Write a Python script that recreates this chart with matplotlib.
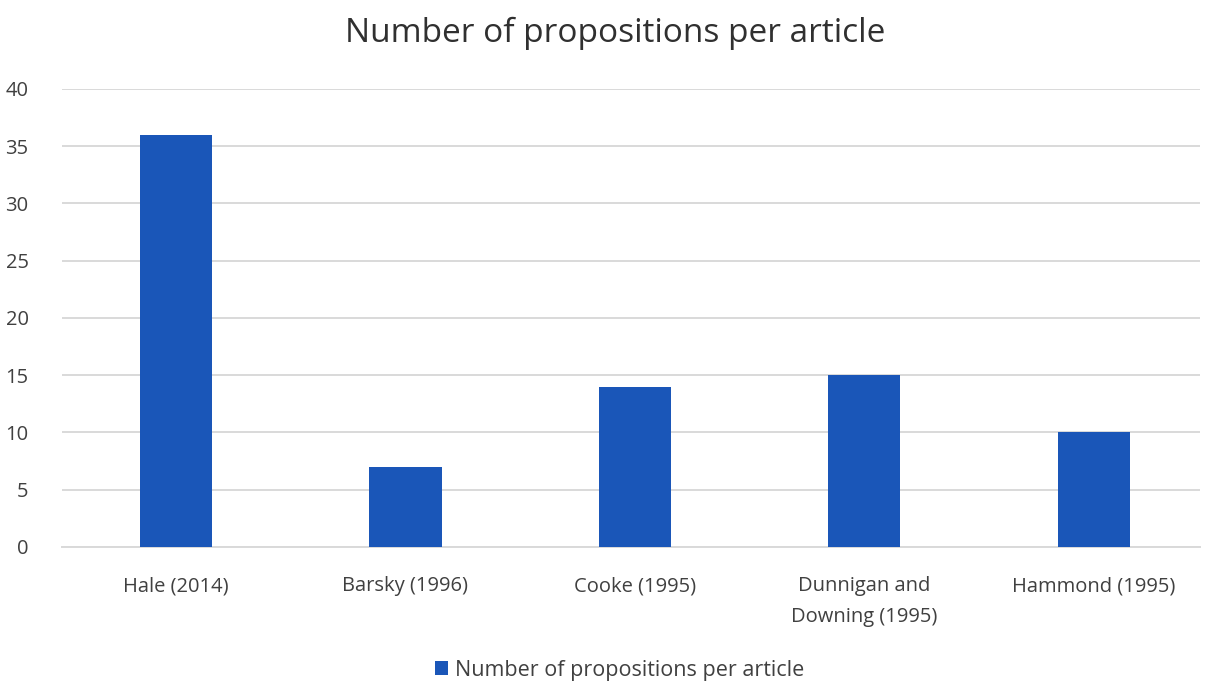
import matplotlib.pyplot as plt

plt.rcParams['font.family'] = ['Open Sans', 'DejaVu Sans']

articles = ["Hale (2014)", "Barsky (1996)", "Cooke (1995)",
            "Dunnigan and\nDowning (1995)", "Hammond (1995)"]
propositions = [36, 7, 14, 15, 10]
series_name = "Number of propositions per article"

fig = plt.figure(figsize=(12.08, 6.84), dpi=100)
ax = fig.add_axes([0.0513, 0.2003, 0.942, 0.6696])

ax.bar(range(len(articles)), propositions, width=0.314, color='#1a56b8',
       label=series_name, zorder=3)

ax.set_xlim(-0.497, 4.462)
ax.set_ylim(0, 40)
ax.set_yticks(range(0, 41, 5))
ax.set_xticks(range(len(articles)))
ax.set_xticklabels(articles, fontsize=14.5, color='#404040', linespacing=1.75)
ax.tick_params(axis='y', labelsize=14.5, colors='#404040', length=0, pad=24)
ax.tick_params(axis='x', length=0, pad=21)
ax.grid(axis='y', color='#d9d9d9', linewidth=1.4, zorder=0)
for s in ['top', 'right', 'left']:
    ax.spines[s].set_visible(False)
ax.spines['bottom'].set_color('#d9d9d9')
ax.spines['bottom'].set_linewidth(1.4)

fig.text(0.509, 0.951, series_name, ha='center', va='center', fontsize=24, color='#303030')

fig.legend(loc='center', bbox_to_anchor=(0.513, 0.02), frameon=False, fontsize=15.5,
           handlelength=0.6, handleheight=0.6, handletextpad=0.3, labelcolor='#404040')

fig.savefig('out.png', dpi=100, facecolor='white')
